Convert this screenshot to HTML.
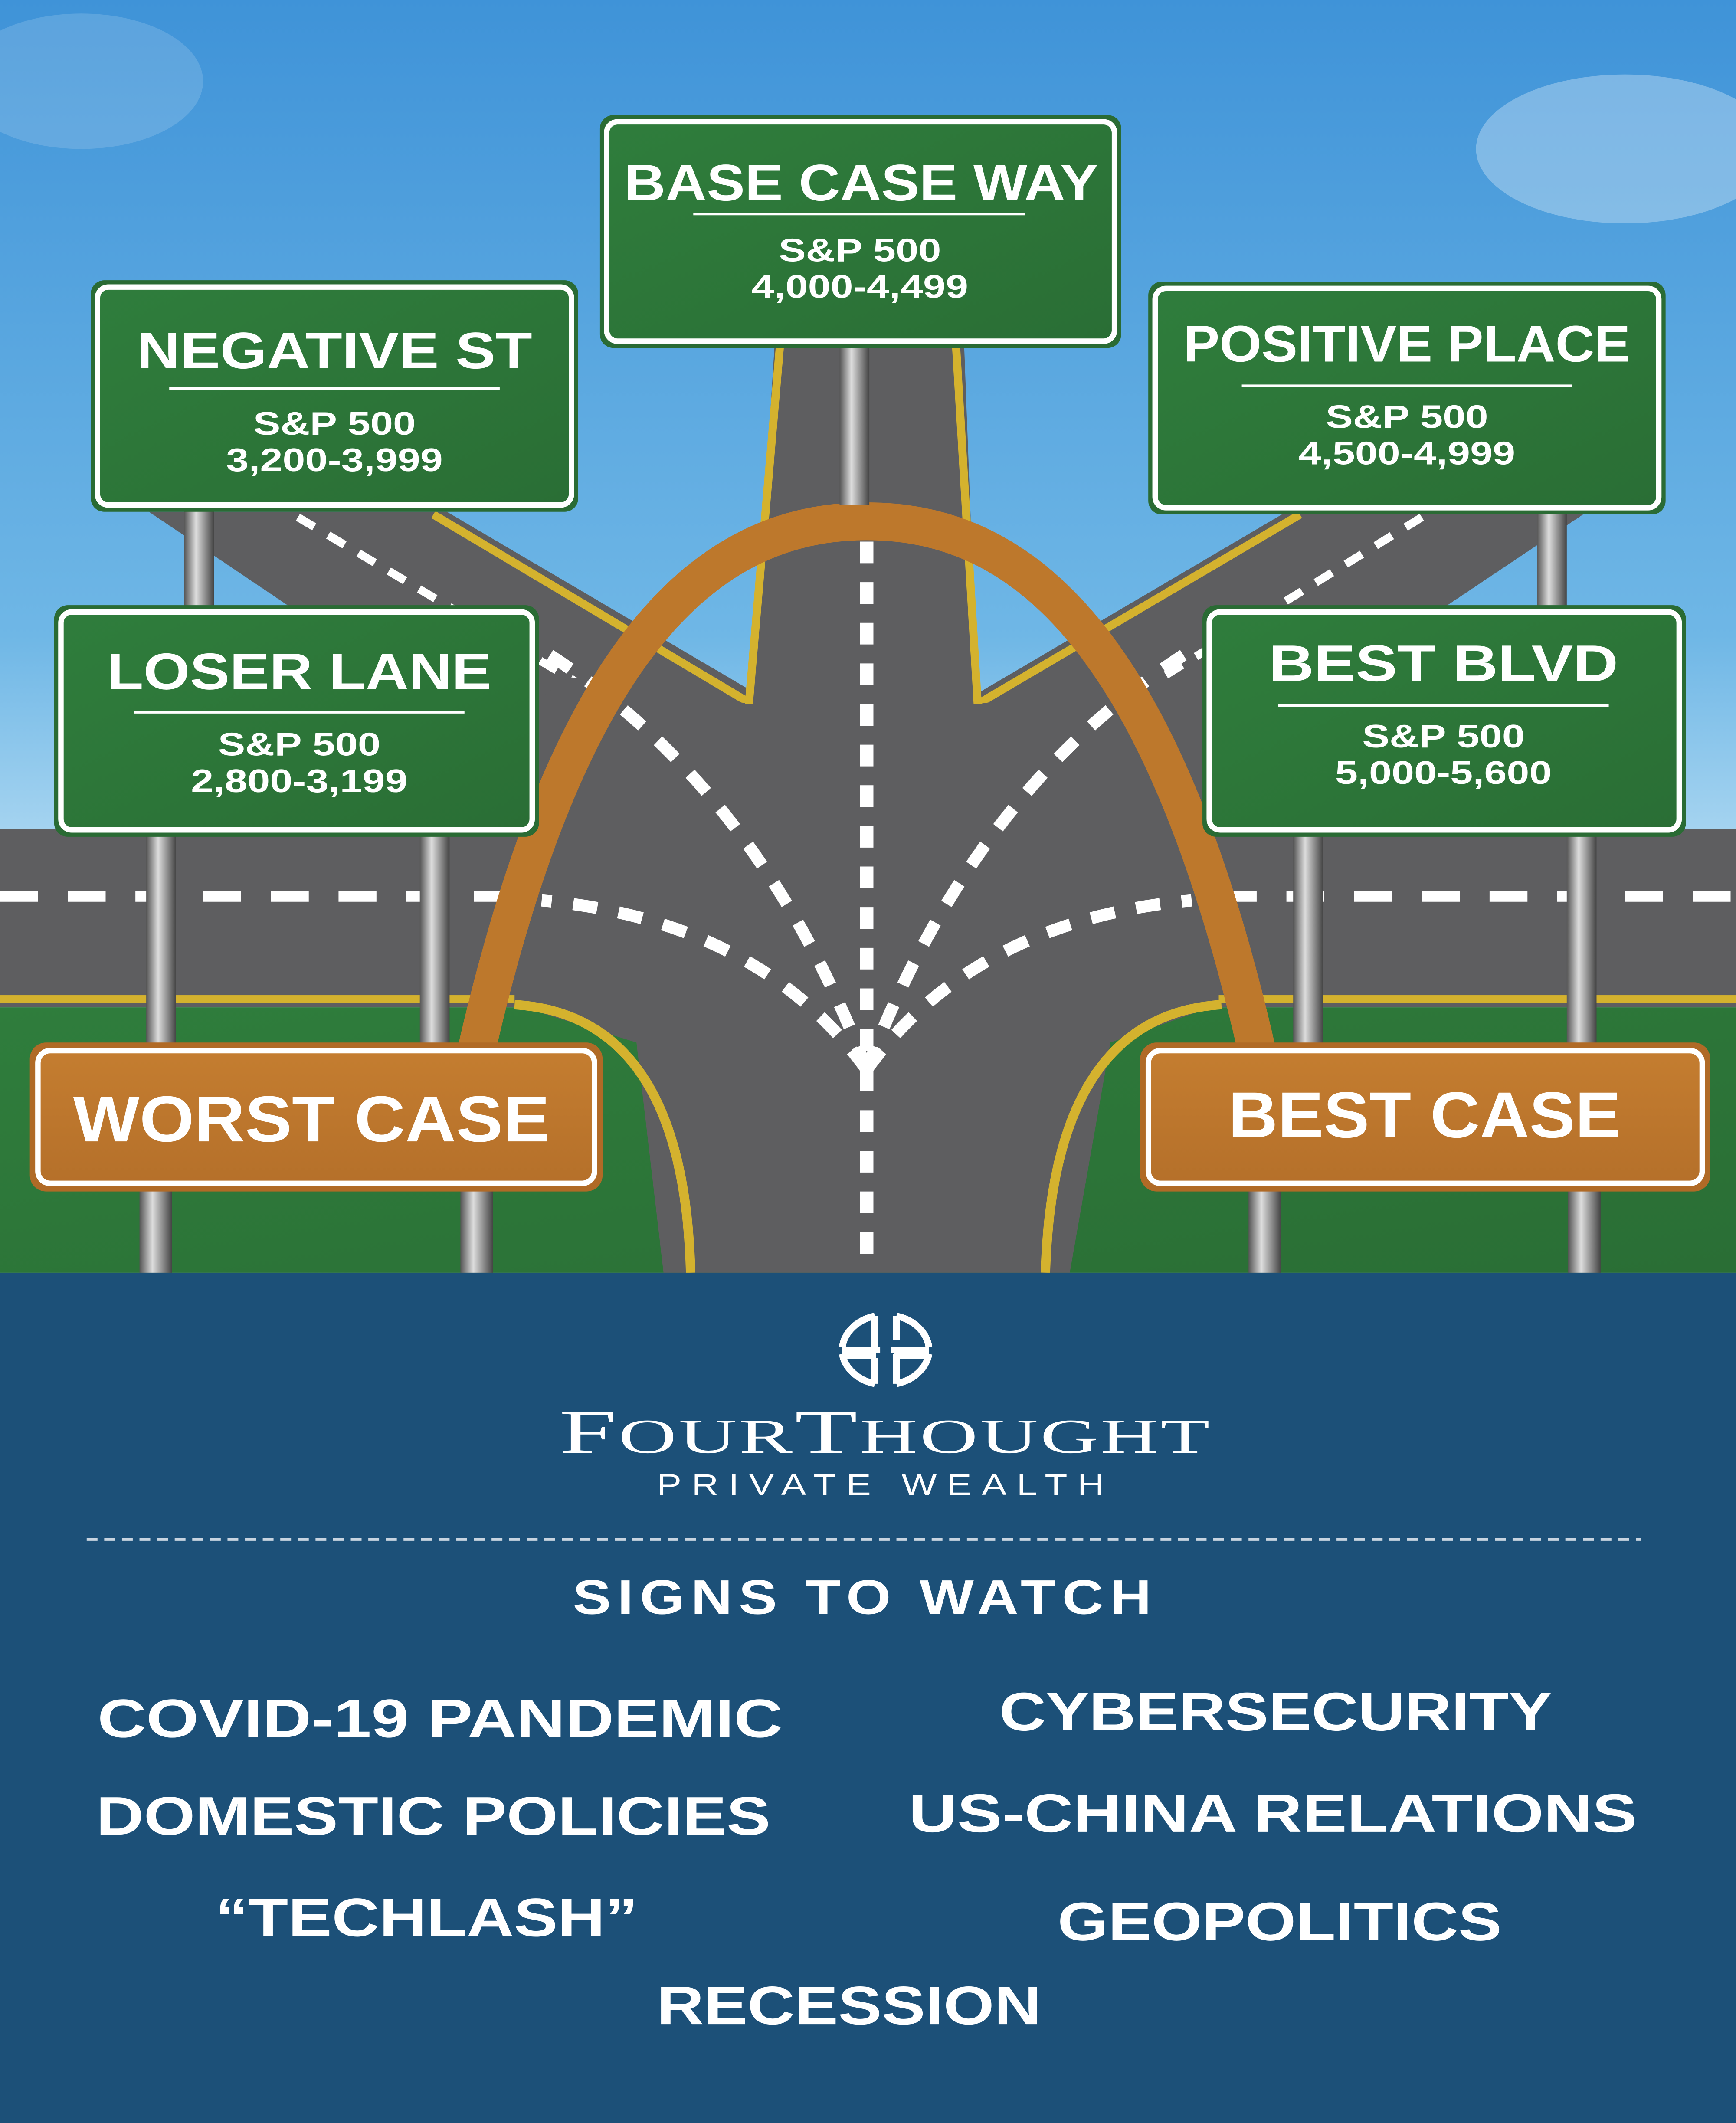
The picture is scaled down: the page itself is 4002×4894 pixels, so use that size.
<!DOCTYPE html>
<html><head><meta charset="utf-8"><style>html,body{margin:0;padding:0;background:#1c5078}svg{display:block}</style></head>
<body>
<svg width="4002" height="4894" viewBox="0 0 1282 1568" preserveAspectRatio="none" xmlns="http://www.w3.org/2000/svg" font-family="Liberation Sans, sans-serif">
<defs>
<linearGradient id="sky" x1="0" y1="0" x2="0" y2="1"><stop offset="0" stop-color="#3f93d8"/><stop offset="0.5" stop-color="#6fb7e6"/><stop offset="0.7" stop-color="#b5dcf3"/><stop offset="1" stop-color="#c8e6f7"/></linearGradient>
<linearGradient id="grn" x1="0" y1="0" x2="1" y2="1"><stop offset="0" stop-color="#2f7d3c"/><stop offset="1" stop-color="#2a6e35"/></linearGradient>
<linearGradient id="post" x1="0" y1="0" x2="1" y2="0"><stop offset="0" stop-color="#555"/><stop offset="0.4" stop-color="#ddd"/><stop offset="1" stop-color="#444"/></linearGradient>
<linearGradient id="org" x1="0" y1="0" x2="0" y2="1"><stop offset="0" stop-color="#c47d30"/><stop offset="1" stop-color="#b5702a"/></linearGradient>
</defs>
<rect width="1282" height="940" fill="url(#sky)"/>
<ellipse cx="1200" cy="110" rx="110" ry="55" fill="#ffffff" opacity="0.3"/>
<ellipse cx="60" cy="60" rx="90" ry="50" fill="#ffffff" opacity="0.15"/>
<rect x="0" y="612" width="1282" height="132" fill="#5e5e60"/>
<rect x="0" y="735" width="1282" height="6" fill="#d4b22e"/>
<line x1="0" y1="662" x2="1282" y2="662" stroke="#fff" stroke-width="8" stroke-dasharray="28,22"/>
<rect x="0" y="744" width="1282" height="196" fill="url(#grn)"/>
<polygon points="110,378 330,378 580,525 470,565 380,560" fill="#5e5e60"/>
<polygon points="950,378 1172,378 900,560 810,565 700,525" fill="#5e5e60"/>
<line x1="220" y1="382" x2="470" y2="530" stroke="#fff" stroke-width="6" stroke-dasharray="14,12"/>
<line x1="1050" y1="382" x2="810" y2="530" stroke="#fff" stroke-width="6" stroke-dasharray="14,12"/>
<line x1="320" y1="380" x2="555" y2="520" stroke="#d4b22e" stroke-width="6"/>
<line x1="960" y1="380" x2="722" y2="520" stroke="#d4b22e" stroke-width="6"/>
<polygon points="572,255 712,255 722,520 860,500 900,530 900,742 820,770 790,940 490,940 470,770 380,742 380,530 420,500 555,520" fill="#5e5e60"/>
<line x1="576" y1="255" x2="553" y2="520" stroke="#d4b22e" stroke-width="6"/>
<line x1="706" y1="255" x2="722" y2="520" stroke="#d4b22e" stroke-width="6"/>
<path d="M380,742 Q505,750 510,940" fill="none" stroke="#d4b22e" stroke-width="7"/>
<path d="M902,742 Q778,750 772,940" fill="none" stroke="#d4b22e" stroke-width="7"/>
<line x1="640" y1="400" x2="640" y2="940" stroke="#fff" stroke-width="10" stroke-dasharray="16,14"/>
<path d="M640,790 Q560,580 400,480" fill="none" stroke="#fff" stroke-width="9" stroke-dasharray="18,16"/>
<path d="M640,790 Q720,580 880,480" fill="none" stroke="#fff" stroke-width="9" stroke-dasharray="18,16"/>
<path d="M640,790 Q560,680 400,665" fill="none" stroke="#fff" stroke-width="9" stroke-dasharray="18,16"/>
<path d="M640,790 Q720,680 880,665" fill="none" stroke="#fff" stroke-width="9" stroke-dasharray="18,16"/>
<path d="M352,775 C420,480 520,385 640,385 C760,385 860,480 928,775" fill="none" stroke="#bd782c" stroke-width="28"/>
<g fill="url(#post)">
<rect x="620" y="255" width="22" height="118"/>
<rect x="136" y="376" width="22" height="72"/>
<rect x="1135" y="378" width="22" height="70"/>
<rect x="108" y="616" width="22" height="156"/><rect x="310" y="616" width="22" height="156"/>
<rect x="955" y="616" width="22" height="156"/><rect x="1157" y="616" width="22" height="156"/>
<rect x="103" y="878" width="24" height="62"/><rect x="340" y="878" width="24" height="62"/>
<rect x="922" y="878" width="24" height="62"/><rect x="1158" y="878" width="24" height="62"/>
</g>
<g stroke-linejoin="round">
<g><rect x="443" y="85" width="385" height="172" rx="10" fill="#2a6b34"/><rect x="448" y="90" width="375" height="162" rx="8" fill="url(#grn)" stroke="#fff" stroke-width="4"/></g>
<g><rect x="67" y="207" width="360" height="171" rx="10" fill="#2a6b34"/><rect x="72" y="212" width="350" height="161" rx="8" fill="url(#grn)" stroke="#fff" stroke-width="4"/></g>
<g><rect x="848" y="208" width="382" height="172" rx="10" fill="#2a6b34"/><rect x="853" y="213" width="372" height="162" rx="8" fill="url(#grn)" stroke="#fff" stroke-width="4"/></g>
<g><rect x="40" y="447" width="358" height="171" rx="10" fill="#2a6b34"/><rect x="45" y="452" width="348" height="161" rx="8" fill="url(#grn)" stroke="#fff" stroke-width="4"/></g>
<g><rect x="888" y="447" width="357" height="171" rx="10" fill="#2a6b34"/><rect x="893" y="452" width="347" height="161" rx="8" fill="url(#grn)" stroke="#fff" stroke-width="4"/></g>
<g><rect x="22" y="770" width="423" height="110" rx="12" fill="#b06a26"/><rect x="28" y="776" width="411" height="98" rx="9" fill="url(#org)" stroke="#fff" stroke-width="4"/></g>
<g><rect x="842" y="770" width="421" height="110" rx="12" fill="#b06a26"/><rect x="848" y="776" width="409" height="98" rx="9" fill="url(#org)" stroke="#fff" stroke-width="4"/></g>
</g>
<g fill="#fff" font-weight="bold" text-anchor="middle">
<text x="636" y="148" font-size="38" textLength="350" lengthAdjust="spacingAndGlyphs">BASE CASE WAY</text>
<rect x="512" y="157" width="245" height="2"/>
<text x="635" y="193" font-size="24" textLength="120" lengthAdjust="spacingAndGlyphs">S&amp;P 500</text><text x="635" y="220" font-size="24" textLength="160" lengthAdjust="spacingAndGlyphs">4,000-4,499</text>
<text x="247" y="272" font-size="38" textLength="292" lengthAdjust="spacingAndGlyphs">NEGATIVE ST</text>
<rect x="125" y="286" width="244" height="2"/>
<text x="247" y="321" font-size="24" textLength="120" lengthAdjust="spacingAndGlyphs">S&amp;P 500</text><text x="247" y="348" font-size="24" textLength="160" lengthAdjust="spacingAndGlyphs">3,200-3,999</text>
<text x="1039" y="267" font-size="38" textLength="330" lengthAdjust="spacingAndGlyphs">POSITIVE PLACE</text>
<rect x="917" y="284" width="244" height="2"/>
<text x="1039" y="316" font-size="24" textLength="120" lengthAdjust="spacingAndGlyphs">S&amp;P 500</text><text x="1039" y="343" font-size="24" textLength="160" lengthAdjust="spacingAndGlyphs">4,500-4,999</text>
<text x="221" y="509" font-size="38" textLength="284" lengthAdjust="spacingAndGlyphs">LOSER LANE</text>
<rect x="99" y="525" width="244" height="2"/>
<text x="221" y="558" font-size="24" textLength="120" lengthAdjust="spacingAndGlyphs">S&amp;P 500</text><text x="221" y="585" font-size="24" textLength="160" lengthAdjust="spacingAndGlyphs">2,800-3,199</text>
<text x="1066" y="503" font-size="38" textLength="258" lengthAdjust="spacingAndGlyphs">BEST BLVD</text>
<rect x="944" y="520" width="244" height="2"/>
<text x="1066" y="552" font-size="24" textLength="120" lengthAdjust="spacingAndGlyphs">S&amp;P 500</text><text x="1066" y="579" font-size="24" textLength="160" lengthAdjust="spacingAndGlyphs">5,000-5,600</text>
<text x="230" y="843" font-size="48" textLength="352" lengthAdjust="spacingAndGlyphs">WORST CASE</text>
<text x="1052" y="840" font-size="48" textLength="290" lengthAdjust="spacingAndGlyphs">BEST CASE</text>
</g>
<rect x="0" y="940" width="1282" height="628" fill="#1c5078"/>
<g fill="none" stroke="#fff" stroke-width="5">
<path d="M646,972 A32,27 0 0 0 622,995"/><path d="M662,972 A32,27 0 0 1 686,995"/>
<path d="M622,1000 A32,27 0 0 0 646,1022"/><path d="M686,1000 A32,27 0 0 1 662,1022"/>
<path d="M646,972 V995 M662,972 V990 M646,1003 V1022 M662,1000 V1022 M622,997 H650 M658,997 H686 M622,1001 H647 M660,1001 H686"/>
</g>
<g fill="#fff" text-anchor="middle">
<text x="654" y="1073" font-family="Liberation Serif, serif" font-size="46" letter-spacing="1" textLength="482" lengthAdjust="spacingAndGlyphs">F<tspan font-size="36">OUR</tspan>T<tspan font-size="36">HOUGHT</tspan></text>
<text x="654" y="1104" font-size="22" letter-spacing="6" textLength="338" lengthAdjust="spacingAndGlyphs">PRIVATE WEALTH</text>
</g>
<line x1="64" y1="1137" x2="1212" y2="1137" stroke="#c8d4e0" stroke-width="2" stroke-dasharray="8,5"/>
<g fill="#fff" font-weight="bold" text-anchor="middle">
<text x="639" y="1192" font-size="36" letter-spacing="4" textLength="432" lengthAdjust="spacingAndGlyphs">SIGNS TO WATCH</text>
<text x="325" y="1283" font-size="40" textLength="506" lengthAdjust="spacingAndGlyphs">COVID-19 PANDEMIC</text>
<text x="942" y="1278" font-size="40" textLength="408" lengthAdjust="spacingAndGlyphs">CYBERSECURITY</text>
<text x="320" y="1355" font-size="40" textLength="498" lengthAdjust="spacingAndGlyphs">DOMESTIC POLICIES</text>
<text x="940" y="1353" font-size="40" textLength="538" lengthAdjust="spacingAndGlyphs">US-CHINA RELATIONS</text>
<text x="315" y="1430" font-size="40" textLength="312" lengthAdjust="spacingAndGlyphs">“TECHLASH”</text>
<text x="945" y="1433" font-size="40" textLength="328" lengthAdjust="spacingAndGlyphs">GEOPOLITICS</text>
<text x="627" y="1495" font-size="40" textLength="284" lengthAdjust="spacingAndGlyphs">RECESSION</text>
</g>
</svg>
</body></html>
